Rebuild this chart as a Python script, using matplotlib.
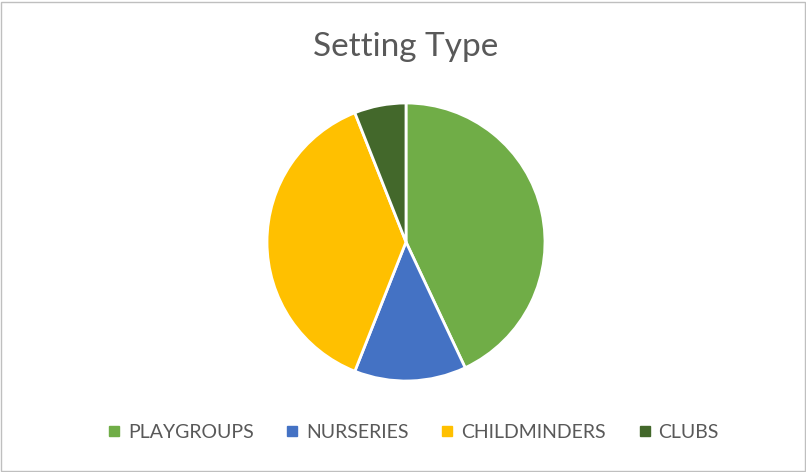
import matplotlib
matplotlib.use("Agg")
import matplotlib.pyplot as plt
from matplotlib.patches import Rectangle
from matplotlib.lines import Line2D

categories = ["PLAYGROUPS", "NURSERIES", "CHILDMINDERS", "CLUBS"]
values = [43, 13, 38, 6]
colors = ["#70AD47", "#4472C4", "#FFC000", "#43682B"]
title = "Setting Type"

plt.rcParams['font.family'] = ['Lato', 'DejaVu Sans']

W, H = 806, 472
fig = plt.figure(figsize=(W / 100, H / 100), dpi=100)
fig.patch.set_facecolor("white")

cx, cy, r = 406, 242, 139
ax = fig.add_axes([(cx - r) / W, (H - cy - r) / H, 2 * r / W, 2 * r / H])
ax.pie(values, colors=colors, startangle=90, counterclock=False,
       wedgeprops=dict(edgecolor="white", linewidth=2))
ax.set_xlim(-1, 1)
ax.set_ylim(-1, 1)
ax.set_aspect("equal")
ax.axis("off")

fig.text(cx / W, 1 - 47 / H, title, ha="center", va="center",
         fontsize=24, color="#595959")

handles = [Line2D([0], [0], marker="s", linestyle="none", markersize=7,
                  markerfacecolor=c, markeredgecolor=c) for c in colors]
fig.legend(handles, categories, loc="center", bbox_to_anchor=(412 / W, 1 - 432 / H),
           ncol=4, frameon=False, fontsize=14, labelcolor="#595959",
           handletextpad=0.25, columnspacing=1.55, handlelength=0.9)

fig.add_artist(Rectangle((0.5 / W, 1.5 / H), 1 - 2 / W, 1 - 3 / H,
                         transform=fig.transFigure, fill=False,
                         edgecolor="#BFBFBF", linewidth=1))

fig.savefig("out.png", dpi=100)
